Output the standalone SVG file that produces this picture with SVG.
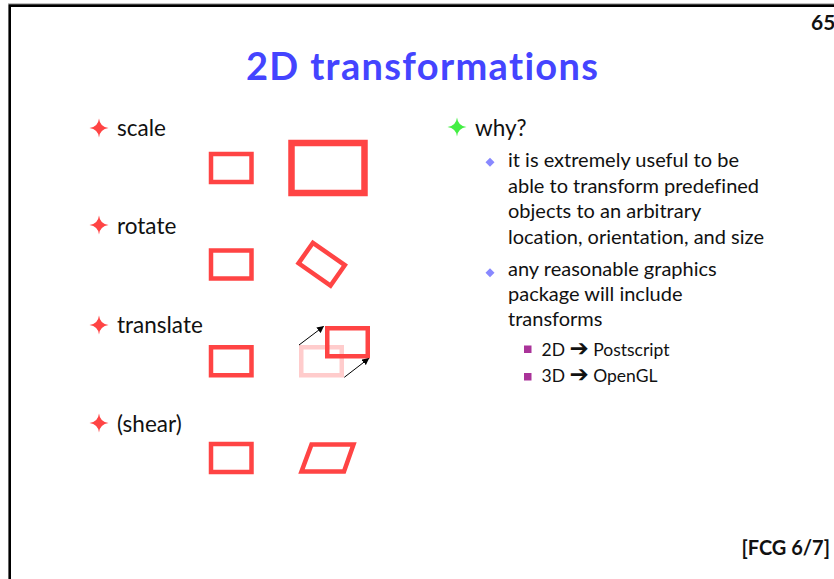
<svg xmlns="http://www.w3.org/2000/svg" width="834" height="579" viewBox="0 0 834 579">
<style>
.t{font-family:Lato,"Open Sans","Liberation Sans",sans-serif;fill:#111;font-variant-ligatures:none}
.b{font-size:22.5px}
.s{font-size:20px}
.ss{font-size:17.5px}
.ar{font-family:"DejaVu Sans",sans-serif;font-weight:bold;font-size:23px}
.r{fill:none;stroke:#ff4444;stroke-width:4.5}
.star{fill:#ff4444}
</style>
<defs>
<marker id="ah" viewBox="0 0 10 10" refX="9" refY="5" markerWidth="7" markerHeight="7" markerUnits="userSpaceOnUse" orient="auto">
<path d="M0,0 L10,5 L0,10 z" fill="#000"/>
</marker>
<path id="st" d="M0,-9.5 Q1,-1 9.5,0 Q1,1 0,9.5 Q-1,1 -9.5,0 Q-1,-1 0,-9.5 z"/>
</defs>
<rect width="834" height="579" fill="#fff"/>
<g id="frame">
<line x1="8" y1="3.6" x2="834" y2="3.6" stroke="#bbb" stroke-width="1"/>
<path d="M9.7,579 V5.6 H834" fill="none" stroke="#000" stroke-width="2.6"/>
</g>
<g id="page-number"><text class="t" x="811" y="30" font-size="21" font-weight="bold">65</text></g>
<g id="title"><text class="t" x="246" y="80" font-size="38" font-weight="bold" style="fill:#4444ff" textLength="352" lengthAdjust="spacing">2D transformations</text></g>

<g id="scale">
<use href="#st" x="99" y="128" class="star"/>
<text class="t b" x="117" y="136">scale</text>
<rect class="r" x="211" y="154" width="40.5" height="28"/>
<rect class="r" x="291.5" y="143" width="73" height="50" style="stroke-width:6.5"/>
</g>
<g id="rotate">
<use href="#st" x="99" y="225" class="star"/>
<text class="t b" x="117" y="234">rotate</text>
<rect class="r" x="211" y="250.5" width="40.5" height="28"/>
<rect class="r" x="-19.5" y="-12.5" width="39" height="25" transform="translate(321.7,264.2) rotate(35)"/>
</g>
<g id="translate">
<use href="#st" x="99" y="325" class="star"/>
<text class="t b" x="117" y="333">translate</text>
<rect class="r" x="211" y="347.25" width="40.5" height="28"/>
<rect x="301.25" y="347.25" width="40.5" height="28" fill="none" stroke="#ffcccc" stroke-width="4.5"/>
<rect class="r" x="327.25" y="328.25" width="40.5" height="28"/>
</g>
<g id="connectors" stroke="#000" stroke-width="1" fill="none">
<line x1="299" y1="345" x2="323.5" y2="326.5" marker-end="url(#ah)"/>
<line x1="344.3" y1="377.3" x2="368.7" y2="358.5" marker-end="url(#ah)"/>
</g>
<g id="shear">
<use href="#st" x="99" y="423" class="star"/>
<text class="t b" x="117" y="432">(shear)</text>
<rect class="r" x="211" y="444" width="40.5" height="28"/>
<polygon class="r" points="311.5,444.5 353.5,444.5 344,471.5 301.5,471.5"/>
</g>

<g id="why">
<use href="#st" x="457" y="127" fill="#44ee44"/>
<text class="t b" x="475" y="136">why?</text>
<path d="M490,157.8 L494.5,162.3 L490,166.8 L485.5,162.3 z" fill="#8888ff"/>
<text class="t s" x="508" y="167">it is extremely useful to be</text>
<text class="t s" x="508" y="192.5">able to transform predefined</text>
<text class="t s" x="508" y="218">objects to an arbitrary</text>
<text class="t s" x="508" y="243.5">location, orientation, and size</text>
<path d="M490,268.2 L494.5,272.7 L490,277.2 L485.5,272.7 z" fill="#8888ff"/>
<text class="t s" x="508" y="275.5">any reasonable graphics</text>
<text class="t s" x="508" y="300.5">package will include</text>
<text class="t s" x="508" y="325.5">transforms</text>
<rect x="524" y="345.5" width="7.5" height="7.5" fill="#aa3399"/>
<text class="t ss" x="541.5" y="355.5">2D <tspan class="ar">➔</tspan> Postscript</text>
<rect x="524" y="373" width="7.5" height="7.5" fill="#aa3399"/>
<text class="t ss" x="541.5" y="381.5">3D <tspan class="ar">➔</tspan> OpenGL</text>
</g>
<g id="citation"><text class="t" x="830" y="555" font-size="20" font-weight="bold" text-anchor="end">[FCG 6/7]</text></g>
</svg>
